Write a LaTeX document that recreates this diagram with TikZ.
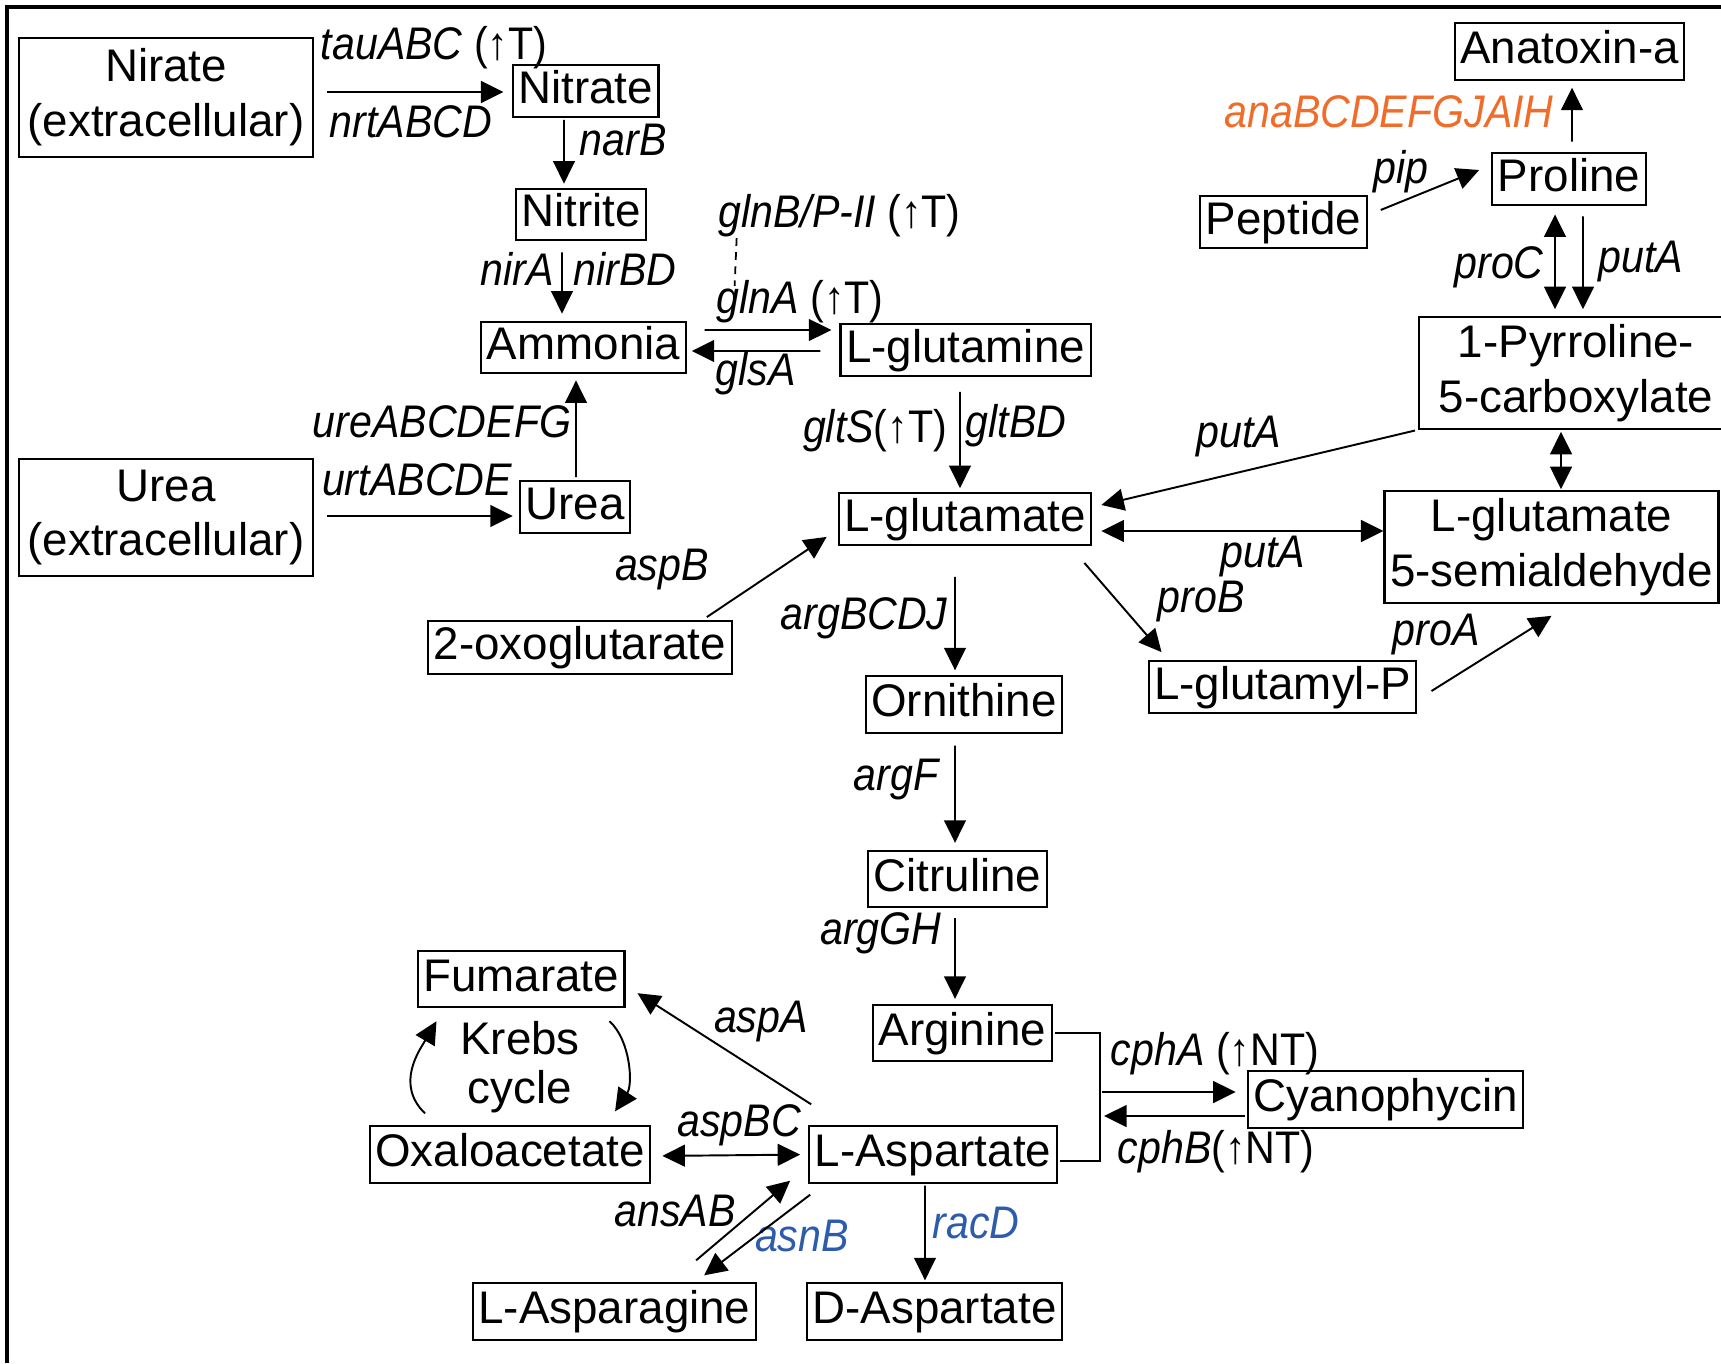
\documentclass[tikz,border=0pt]{standalone}
\usepackage{fontspec}
\setmainfont{Liberation Sans}
\newfontfamily\genefont{Liberation Sans}[FakeStretch=0.9]
\usetikzlibrary{arrows.meta}

\newcommand{\mfont}{\fontsize{13pt}{15.6pt}\selectfont}
\definecolor{anaorange}{RGB}{240,108,42}
\definecolor{genblue}{RGB}{45,92,172}

\tikzset{
    box/.style={draw, line width=0.6pt, font=\mfont, inner xsep=1.6pt, inner ysep=1.2pt,
                text height=9.6pt, text depth=2.7pt},
    tallbox/.style={box, minimum height=16pt},
    twobox/.style={draw, line width=0.6pt, font=\mfont, align=center, inner xsep=1.6pt, inner ysep=2pt},
    gene/.style={font=\genefont\itshape\mfont, inner sep=0pt, text height=9.5pt, text depth=2.7pt},
    arr/.style={line width=0.55pt, -{Triangle[length=6.4pt,width=6.2pt]}},
    dbl/.style={line width=0.55pt, {Triangle[length=6.4pt,width=6.2pt]}-{Triangle[length=6.4pt,width=6.2pt]}}
}

\begin{document}
\begin{tikzpicture}[x=0.01cm, y=-0.01cm]
    \useasboundingbox (0,0) rectangle (1721,1363);
    \clip (0,0) rectangle (1721,1363);
    \draw[line width=0.9pt] (7,1363) -- (7,7) -- (1721,7);

    % nitrogen sources
    \node[twobox, minimum width=2.94cm, minimum height=33.8pt] (nirext) at (166,97.5) {Nirate\\(extracellular)};
    \node[box] (nitrate) at (585.5,91) {Nitrate};
    \node[box] (nitrite) at (581,214.5) {Nitrite};
    \node[box] (ammonia) at (583.5,347.5) {Ammonia};
    \node[box] (glutamine) at (965.5,350) {L-glutamine};
    \node[twobox, minimum width=2.94cm, minimum height=33.3pt] (ureaext) at (166,517.5) {Urea\\(extracellular)};
    \node[box] (urea) at (575,507) {Urea};
    \node[box] (glutamate) at (965,519) {L-glutamate};
    \node[box, minimum height=15pt] (oxoglut) at (580,647.5) {2-oxoglutarate};

    % arginine branch
    \node[tallbox] (ornithine) at (964,704.5) {Ornithine};
    \node[tallbox] (citruline) at (957.5,879) {Citruline};
    \node[tallbox] (arginine) at (962.5,1033) {Arginine};
    \node[tallbox] (cyano) at (1385.5,1099.5) {Cyanophycin};

    % aspartate branch
    \node[tallbox] (fumarate) at (521,979) {Fumarate};
    \node[font=\mfont, align=center, inner sep=0pt] (krebs) at (520,1067) {Krebs\\[-1.6pt]cycle};
    \node[tallbox] (oxaloac) at (510,1154.5) {Oxaloacetate};
    \node[tallbox] (aspartate) at (933,1154.5) {L-Aspartate};
    \node[tallbox] (asparagine) at (614.5,1311.5) {L-Asparagine};
    \node[tallbox] (daspartate) at (934.5,1311.5) {D-Aspartate};

    % proline branch
    \node[box] (glutamylp) at (1282.5,687) {L-glutamyl-P};
    \node[twobox, minimum height=29.6pt] (semiald) at (1551.5,547) {L-glutamate\\5-semialdehyde};
    \node[twobox, minimum width=3.14cm, minimum height=30.2pt] (pyrroline) at (1576,373) {1-Pyrroline-\\5-carboxylate};
    \node[tallbox] (anatoxin) at (1569.5,51.5) {Anatoxin-a};
    \node[box, minimum height=15pt] (proline) at (1569,179) {Proline};
    \node[box, minimum height=15pt] (peptide) at (1283.5,222) {Peptide};

    % genes
    \node[gene] (ltau) at (434,48) {tauABC {\upshape(↑T)}};
    \node[gene] (lnrt) at (411,126) {nrtABCD};
    \node[gene] (lnarB) at (623,144) {narB};
    \node[gene] (lnirA) at (517,274) {nirA};
    \node[gene] (lnirBD) at (625,274) {nirBD};
    \node[gene] (lglnB) at (839.5,216) {glnB/P-II {\upshape(↑T)}};
    \node[gene] (lglnA) at (800,302) {glnA {\upshape(↑T)}};
    \node[gene] (lglsA) at (756,374) {glsA};
    \node[gene] (lure) at (442,426) {ureABCDEFG};
    \node[gene] (lurt) at (417,484) {urtABCDE};
    \node[gene] (lgltS) at (875,431) {gltS{\upshape(↑T)}};
    \node[gene] (lgltBD) at (1016,426) {gltBD};
    \node[gene] (laspB) at (662,569) {aspB};
    \node[gene] (largBCDJ) at (864,618) {argBCDJ};
    \node[gene] (largF) at (896,779) {argF};
    \node[gene] (largGH) at (881,933) {argGH};
    \node[gene] (lputAa) at (1239,436) {putA};
    \node[gene] (lputAb) at (1263,556) {putA};
    \node[gene] (lproB) at (1201,601) {proB};
    \node[gene] (lproA) at (1436,634) {proA};
    \node[gene] (lproC) at (1499,267) {proC};
    \node[gene] (lputAc) at (1641,261) {putA};
    \node[gene, text=anaorange] (lana) at (1389,116) {anaBCDEFGJAIH};
    \node[gene] (lpip) at (1401,172) {pip};
    \node[gene] (lcphA) at (1215,1054) {cphA {\upshape(↑NT)}};
    \node[gene] (lcphB) at (1216,1152) {cphB{\upshape(↑NT)}};
    \node[gene] (laspA) at (761,1021) {aspA};
    \node[gene] (laspBC) at (739,1125) {aspBC};
    \node[gene] (lansAB) at (675,1215) {ansAB};
    \node[gene, text=genblue] (lasnB) at (802,1240) {asnB};
    \node[gene, text=genblue] (lracD) at (976,1227) {racD};

    % nitrate and urea uptake
    \draw[arr, shorten <=1.3mm, shorten >=0.8mm] ([yshift=0.55mm]nirext.east) -- ([yshift=-0.1mm]nitrate.west);
    \draw[arr, shorten <=0.2mm, shorten >=0.4mm] ([xshift=-2.15mm]nitrate.south) -- ([xshift=-1.7mm]nitrite.north);
    \draw[arr, shorten <=1.1mm, shorten >=0.7mm] ([xshift=-1.9mm]nitrite.south) -- ([xshift=-2.15mm]ammonia.north);
    \draw[arr, shorten <=1.3mm, shorten >=0.6mm] ([yshift=0.15mm]ureaext.east) -- ([yshift=-0.9mm]urea.west);
    \draw[arr, shorten <=0.3mm, shorten >=0.6mm] ([xshift=0.1mm]urea.north) -- ([xshift=-0.75mm]ammonia.south);

    % ammonia assimilation
    \draw[arr, shorten <=1.8mm, shorten >=0.8mm] ([yshift=1.75mm]ammonia.east) -- ([yshift=2mm]glutamine.west);
    \draw[arr, shorten <=1.9mm, shorten >=0.5mm] ([yshift=-0.1mm]glutamine.west) -- ([yshift=-0.35mm]ammonia.east);
    \draw[line width=0.5pt, dash pattern=on 2.2pt off 1.8pt, shorten >=-0.6mm] ([xshift=1.9mm]lglnB.south west) -- ([xshift=1.9mm]lglnA.north west);
    \draw[arr, shorten <=1.5mm, shorten >=0.4mm] ([xshift=-0.55mm]glutamine.south) -- ([xshift=-0.5mm]glutamate.north);
    \draw[arr] ([xshift=-2.6mm,yshift=0.3mm]oxoglut.north east) -- ([xshift=-1.1mm,yshift=0.9mm]glutamate.south west);

    % arginine and cyanophycin
    \draw[arr, shorten <=3.1mm, shorten >=0.5mm] ([xshift=-1mm]glutamate.south) -- ([xshift=-0.9mm]ornithine.north);
    \draw[arr, shorten <=1.2mm, shorten >=0.7mm] ([xshift=-0.9mm]ornithine.south) -- ([xshift=-0.25mm]citruline.north);
    \draw[arr, shorten <=1mm, shorten >=0.5mm] ([xshift=-0.25mm]citruline.south) -- ([xshift=-0.75mm]arginine.north);
    \draw[line width=0.55pt] ([xshift=0.2mm]arginine.east) -- ++(45,0) coordinate (bus) |- ([xshift=0.2mm,yshift=-0.65mm]aspartate.east);
    \coordinate (cin) at ([yshift=0.75mm]cyano.west);
    \coordinate (cout) at ([yshift=-1.65mm]cyano.west);
    \draw[arr, shorten <=0.2mm, shorten >=1.1mm] (bus |- cin) -- (cin);
    \draw[arr, shorten <=0.2mm, shorten >=0.4mm] (cout) -- (bus |- cout);

    % aspartate
    \draw[arr] ([xshift=0.3mm,yshift=2.1mm]aspartate.north west) -- ([xshift=1.2mm,yshift=1.5mm]fumarate.south east);
    \draw[dbl, shorten <=1.1mm, shorten >=0.8mm] ([yshift=-0.15mm]oxaloac.east) -- (aspartate.west);
    \draw[arr] ([xshift=-6.1mm,yshift=2.2mm]asparagine.north east) -- ([xshift=-1.8mm,yshift=0.3mm]aspartate.south west);
    \draw[arr] ([xshift=0.2mm,yshift=-1.1mm]aspartate.south west) -- ([xshift=-5.3mm,yshift=0.7mm]asparagine.north east);
    \draw[arr, shorten <=0.2mm, shorten >=0.2mm] ([xshift=-0.8mm]aspartate.south) -- ([xshift=-0.95mm]daspartate.north);
    \draw[arr] ([xshift=-8.5mm,yshift=1.2mm]oxaloac.north) .. controls +(-30,-29) and +(-17,29) .. ([xshift=2mm,yshift=-1.3mm]fumarate.south west);
    \draw[arr] ([xshift=-1.6mm,yshift=-1.3mm]fumarate.south east) .. controls +(21,19) and +(18,-27) .. ([xshift=10.5mm,yshift=1.4mm]oxaloac.north);

    % proline and anatoxin
    \draw[arr, shorten <=0.3mm] (pyrroline.south west) -- ([xshift=0.9mm,yshift=1.4mm]glutamate.east);
    \draw[dbl, shorten <=0.9mm] ([yshift=-1.2mm]glutamate.east) -- ([yshift=1.6mm]semiald.west);
    \draw[arr] ([xshift=-0.8mm,yshift=-1.7mm]glutamate.south east) -- ([xshift=1.4mm,yshift=0.8mm]glutamylp.north west);
    \draw[arr] ([xshift=1.4mm,yshift=-0.4mm]glutamylp.east) -- ([yshift=-1.2mm]semiald.south);
    \draw[dbl, shorten <=0.2mm, shorten >=0.1mm] ([xshift=-1.5mm]pyrroline.south) -- ([xshift=0.95mm]semiald.north);
    \draw[dbl, shorten <=0.8mm, shorten >=0.7mm] ([xshift=-1.4mm]proline.south) -- ([xshift=-2.1mm]pyrroline.north);
    \draw[arr, shorten <=1mm, shorten >=0.7mm] ([xshift=1.4mm]proline.south) -- ([xshift=0.7mm]pyrroline.north);
    \draw[arr, shorten <=1mm, shorten >=0.7mm] ([xshift=0.3mm]proline.north) -- ([xshift=0.25mm]anatoxin.south);
    \draw[arr] ([xshift=1.3mm,yshift=1.2mm]peptide.east) -- ([xshift=-1.2mm,yshift=0.9mm]proline.west);
\end{tikzpicture}
\end{document}
